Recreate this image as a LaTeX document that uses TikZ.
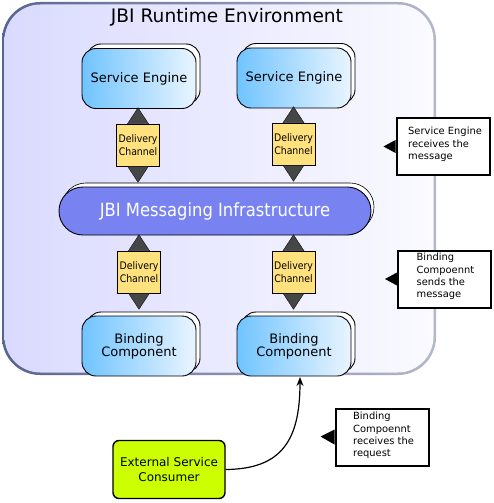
\documentclass[tikz,border=0pt]{standalone}
\usepackage{fontspec}
\setmainfont{DejaVu Sans}
\newfontfamily\cond{DejaVu Sans Condensed}
\usetikzlibrary{calc,arrows.meta}
\definecolor{envL}{HTML}{DADAFF}
\definecolor{envR}{HTML}{FAFAFF}
\definecolor{envBL}{HTML}{5A6490}
\definecolor{envBR}{HTML}{B4B8CC}
\definecolor{compL}{HTML}{70C4FF}
\definecolor{compR}{HTML}{EAF5FF}
\definecolor{msgfill}{HTML}{7882F0}
\definecolor{dcfill}{HTML}{FFE27E}
\definecolor{trifill}{HTML}{464646}
\definecolor{escfill}{HTML}{CCFF00}
\tikzset{
  x=1pt,y=-1pt,
  compback/.style={draw=black,line width=0.9pt,fill=white,rounded corners=14pt,minimum width=113pt,minimum height=60pt,inner sep=0pt},
  compfront/.style={draw=black,line width=0.9pt,left color=compL,right color=compR,rounded corners=14pt,minimum width=114pt,minimum height=60pt,inner sep=0pt,align=center,font=\fontsize{13}{13}\selectfont},
  dcbox/.style={draw=black,line width=0.6pt,fill=dcfill,minimum width=43pt,minimum height=42pt,inner sep=0pt,align=center,font=\cond\fontsize{10.4}{12.5}\selectfont},
  tri/.style={fill=trifill,draw=black,line width=0.3pt},
  callout/.style={draw=black,line width=2pt,fill=white,minimum width=93pt,minimum height=57pt,inner sep=0pt},
  callouttext/.style={anchor=north west,inner sep=0pt,align=left,font=\fontsize{9.9}{12.4}\selectfont},
  ptr/.style={fill=black},
}
\begin{document}
\begin{tikzpicture}
\useasboundingbox (0,0) rectangle (493,503);
% environment
\shade[left color=envBL,right color=envBR,rounded corners=38pt] (2,2) rectangle (436,375);
\shade[left color=envL,right color=envR,rounded corners=36pt] (4.5,4.5) rectangle (433.5,372.5);
\node[font=\fontsize{18.6}{19}\selectfont,inner sep=0pt] (title) at (227,17) {JBI Runtime Environment};
% service engines
\node[compback] (se1b) at (143.5,74) {};
\node[compfront] (se1) at (139,78.5) {Service Engine};
\node[compback] (se2b) at (298.5,73.5) {};
\node[compfront] (se2) at (294,78) {Service Engine};
% messaging infrastructure
\node[draw=black,line width=0.6pt,fill=white,rounded corners=23.9pt,minimum width=312pt,minimum height=48pt] (mib) at (218,207) {};
\node[draw=black,line width=0.9pt,fill=msgfill,rounded corners=23.9pt,minimum width=312pt,minimum height=48pt,text=white,font=\cond\fontsize{18.2}{18}\selectfont] (mi) at (215,211) {JBI Messaging Infrastructure};
% binding components
\node[compback] (bc1b) at (143.5,342) {};
\node[compfront] (bc1) at (139,346) {Binding\\Component};
\node[compback] (bc2b) at (298.5,342) {};
\node[compfront] (bc2) at (294,346) {Binding\\Component};
% delivery channels
\node[dcbox] (dc1) at (138,145) {Delivery\\Channel};
\node[dcbox] (dc2) at (293.5,144) {Delivery\\Channel};
\node[dcbox] (dc3) at (139,272) {Delivery\\Channel};
\node[dcbox] (dc4) at (293.5,272) {Delivery\\Channel};
\foreach \d in {dc1,dc2,dc3,dc4}{
  \draw[tri] ($(\d.north)+(-10.5,0)$) -- ($(\d.north)+(10.5,0)$) -- ($(\d.north)+(0,-16)$) -- cycle;
  \draw[tri] ($(\d.south)+(-10.5,0)$) -- ($(\d.south)+(10.5,0)$) -- ($(\d.south)+(0,16)$) -- cycle;
}
% callouts
\node[callout] (c1) at (443,146.5) {};
\fill[ptr] (c1.west) ++(0,-6.5) -- ++(-12,6.5) -- ++(12,6.5) -- cycle;
\node[callouttext] (c1t) at (408,127) {Service Engine\\receives the\\message};
\node[callout] (c2) at (444.5,279) {};
\fill[ptr] (c2.west) ++(0,-6.5) -- ++(-12,6.5) -- ++(12,6.5) -- cycle;
\node[callouttext] (c2t) at (416.5,253) {Binding\\Compoennt\\sends the\\message};
\node[callout] (c3) at (382,437.5) {};
\fill[ptr] (c3.west) ++(0,-8) -- ++(-14,7) -- ++(14,8) -- cycle;
\node[callouttext] (c3t) at (353,412) {Binding\\Compoennt\\receives the\\request};
% external consumer
\node[draw=black,line width=1.4pt,fill=escfill,rounded corners=6pt,minimum width=112pt,minimum height=58pt,align=center,font=\fontsize{12}{15}\selectfont] (esc) at (169,469.5) {External Service\\Consumer};
\coordinate (bcin) at (300,377);
\draw[line width=1.2pt,-{Stealth[length=9pt,width=7pt]}] (esc.east) .. controls (282,469) and (300,440) .. (bcin);
\end{tikzpicture}
\end{document}
